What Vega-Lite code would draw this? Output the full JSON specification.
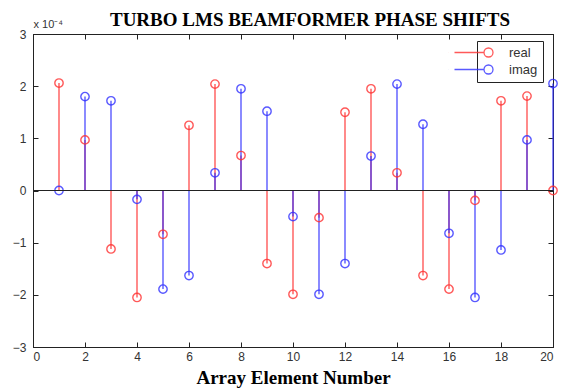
{
  "$schema": "https://vega.github.io/schema/vega-lite/v6.json",
  "width": 520,
  "height": 313,
  "autosize": {"type": "none"},
  "padding": {"left": 33, "top": 34, "right": 10, "bottom": 44},
  "background": "white",
  "title": {
    "text": "TURBO LMS BEAMFORMER PHASE SHIFTS",
    "font": "Liberation Serif",
    "fontSize": 19,
    "fontWeight": "bold",
    "color": "black",
    "offset": -12,
    "dx": 17,
    "anchor": "middle"
  },
  "config": {
    "view": {"stroke": "#222", "strokeWidth": 1},
    "axis": {
      "grid": false,
      "domainColor": "#222",
      "tickColor": "#222",
      "labelFont": "Liberation Sans",
      "labelFontSize": 12,
      "labelColor": "#333",
      "tickSize": -5
    }
  },
  "data": {
    "values": [
      {"element": 1, "series": "real", "value": 2.06},
      {"element": 1, "series": "imag", "value": 0.0},
      {"element": 2, "series": "real", "value": 0.97},
      {"element": 2, "series": "imag", "value": 1.8},
      {"element": 3, "series": "real", "value": -1.12},
      {"element": 3, "series": "imag", "value": 1.72},
      {"element": 4, "series": "real", "value": -2.05},
      {"element": 4, "series": "imag", "value": -0.17},
      {"element": 5, "series": "real", "value": -0.84},
      {"element": 5, "series": "imag", "value": -1.89},
      {"element": 6, "series": "real", "value": 1.25},
      {"element": 6, "series": "imag", "value": -1.63},
      {"element": 7, "series": "real", "value": 2.04},
      {"element": 7, "series": "imag", "value": 0.34},
      {"element": 8, "series": "real", "value": 0.67},
      {"element": 8, "series": "imag", "value": 1.95},
      {"element": 9, "series": "real", "value": -1.4},
      {"element": 9, "series": "imag", "value": 1.52},
      {"element": 10, "series": "real", "value": -1.99},
      {"element": 10, "series": "imag", "value": -0.5},
      {"element": 11, "series": "real", "value": -0.52},
      {"element": 11, "series": "imag", "value": -1.99},
      {"element": 12, "series": "real", "value": 1.5},
      {"element": 12, "series": "imag", "value": -1.4},
      {"element": 13, "series": "real", "value": 1.95},
      {"element": 13, "series": "imag", "value": 0.66},
      {"element": 14, "series": "real", "value": 0.34},
      {"element": 14, "series": "imag", "value": 2.04},
      {"element": 15, "series": "real", "value": -1.63},
      {"element": 15, "series": "imag", "value": 1.27},
      {"element": 16, "series": "real", "value": -1.89},
      {"element": 16, "series": "imag", "value": -0.82},
      {"element": 17, "series": "real", "value": -0.19},
      {"element": 17, "series": "imag", "value": -2.05},
      {"element": 18, "series": "real", "value": 1.72},
      {"element": 18, "series": "imag", "value": -1.14},
      {"element": 19, "series": "real", "value": 1.81},
      {"element": 19, "series": "imag", "value": 0.97},
      {"element": 20, "series": "real", "value": 0.0},
      {"element": 20, "series": "imag", "value": 2.05}
    ]
  },
  "layer": [
    {
      "mark": {"type": "rule", "strokeWidth": 1.4, "opacity": 0.8},
      "encoding": {
        "x": {
          "field": "element",
          "type": "quantitative",
          "scale": {"domain": [0, 20], "nice": false},
          "axis": {
            "orient": "bottom",
            "values": [0, 2, 4, 6, 8, 10, 12, 14, 16, 18, 20],
            "title": "Array Element Number",
            "titleFont": "Liberation Serif",
            "titleFontSize": 19,
            "titleFontWeight": "bold",
            "titleColor": "black",
            "titlePadding": 6,
            "labelPadding": 9
          }
        },
        "y": {
          "field": "value",
          "type": "quantitative",
          "scale": {"domain": [-3, 3], "nice": false},
          "axis": {
            "orient": "left",
            "values": [-3, -2, -1, 0, 1, 2, 3],
            "title": "x 10⁻⁴",
            "titleAngle": 0,
            "titleAlign": "left",
            "titleBaseline": "bottom",
            "titleX": 0,
            "titleY": -5,
            "titleFont": "Liberation Sans",
            "titleFontSize": 11,
            "titleFontWeight": "normal",
            "titleColor": "#333",
            "labelPadding": 12
          }
        },
        "y2": {"datum": 0},
        "color": {
          "field": "series",
          "type": "nominal",
          "scale": {"domain": ["real", "imag"], "range": ["#ff3030", "#3030ff"]},
          "legend": {
            "orient": "none",
            "legendX": 444,
            "legendY": 7,
            "title": null,
            "strokeColor": "#222",
            "fillColor": "white",
            "padding": 5,
            "symbolType": "M-8,0h0.01M-6.8,0H-0.9M-0.9,0A0.9,0.9 0 1,0 0.9,0A0.9,0.9 0 1,0 -0.9,0",
            "symbolSize": 100,
            "symbolStrokeWidth": 1.3,
            "symbolFillColor": "transparent",
            "symbolOpacity": 0.85,
            "labelOffset": 14,
            "labelFont": "Liberation Sans",
            "labelFontSize": 13,
            "labelColor": "#333",
            "rowPadding": 2
          }
        }
      }
    },
    {
      "mark": {"type": "point", "shape": "circle", "filled": false, "size": 70, "strokeWidth": 1.4, "opacity": 0.8},
      "encoding": {
        "x": {"field": "element", "type": "quantitative", "axis": null},
        "y": {"field": "value", "type": "quantitative", "axis": null},
        "color": {"field": "series", "type": "nominal"}
      }
    },
    {
      "mark": {"type": "rule", "color": "#222", "strokeWidth": 1},
      "encoding": {"y": {"datum": 0, "axis": null}}
    },
    {
      "mark": {"type": "point", "opacity": 0},
      "encoding": {
        "x": {"field": "element", "type": "quantitative", "axis": {"orient": "top", "values": [0, 2, 4, 6, 8, 10, 12, 14, 16, 18, 20], "labels": false, "title": null}},
        "y": {"field": "value", "type": "quantitative", "axis": {"orient": "right", "values": [-3, -2, -1, 0, 1, 2, 3], "labels": false, "title": null}}
      }
    }
  ],
  "resolve": {"axis": {"x": "independent", "y": "independent"}}
}
